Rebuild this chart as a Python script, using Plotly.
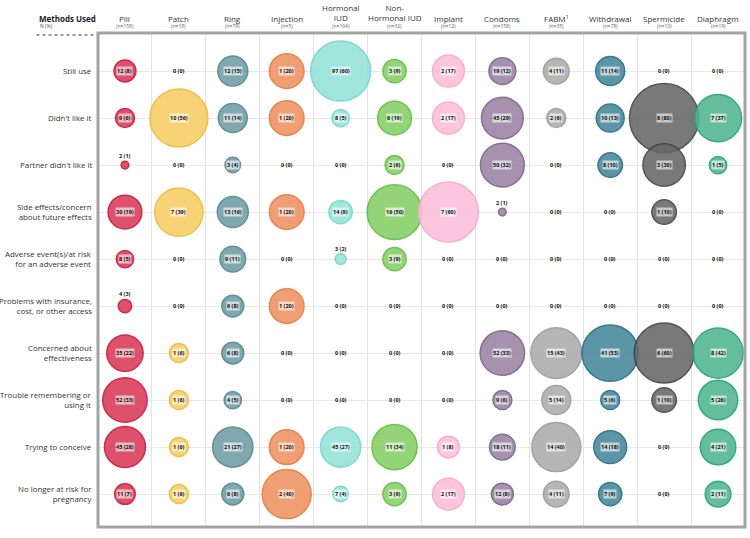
import plotly.graph_objects as go
import numpy as np

methods = ["Pill", "Patch", "Ring", "Injection", "Hormonal<br>IUD", "Non-<br>Hormonal IUD",
           "Implant", "Condoms", "FABM<sup>1</sup>", "Withdrawal", "Spermicide", "Diaphragm"]
method_n = [158, 18, 79, 5, 164, 32, 12, 158, 35, 78, 10, 19]

reasons = ["Still use", "Didn't like it", "Partner didn't like it",
           "Side effects/concern<br>about future effects",
           "Adverse event(s)/at risk<br>for an adverse event",
           "Problems with insurance,<br>cost, or other access",
           "Concerned about<br>effectiveness",
           "Trouble remembering or<br>using it",
           "Trying to conceive",
           "No longer at risk for<br>pregnancy"]

# counts[row][method], pct[row][method]
counts = [
    [12, 0, 12, 1, 97, 3, 2, 19, 4, 11, 0, 0],
    [9, 10, 11, 1, 8, 6, 2, 45, 2, 10, 8, 7],
    [2, 0, 3, 0, 0, 2, 0, 50, 0, 8, 3, 1],
    [30, 7, 13, 1, 14, 16, 7, 2, 0, 0, 1, 0],
    [8, 0, 9, 0, 3, 3, 0, 0, 0, 0, 0, 0],
    [4, 0, 6, 1, 0, 0, 0, 0, 0, 0, 0, 0],
    [35, 1, 6, 0, 0, 0, 0, 52, 15, 41, 6, 8],
    [52, 1, 4, 0, 0, 0, 0, 9, 5, 5, 1, 5],
    [45, 1, 21, 1, 45, 11, 1, 18, 14, 14, 0, 4],
    [11, 1, 6, 2, 7, 3, 2, 12, 4, 7, 0, 2],
]
pct = [
    [8, 0, 15, 20, 60, 9, 17, 12, 11, 14, 0, 0],
    [6, 56, 14, 20, 5, 19, 17, 29, 6, 13, 80, 37],
    [1, 0, 4, 0, 0, 6, 0, 32, 0, 10, 30, 5],
    [19, 39, 16, 20, 9, 50, 60, 1, 0, 0, 10, 0],
    [5, 0, 11, 0, 2, 9, 0, 0, 0, 0, 0, 0],
    [3, 0, 8, 20, 0, 0, 0, 0, 0, 0, 0, 0],
    [22, 6, 8, 0, 0, 0, 0, 33, 43, 53, 60, 42],
    [33, 6, 5, 0, 0, 0, 0, 6, 14, 6, 10, 26],
    [28, 6, 27, 20, 27, 34, 8, 11, 40, 18, 0, 21],
    [7, 6, 8, 40, 4, 9, 17, 8, 11, 9, 0, 11],
]

fill_colors = ["#d93a5a", "#f6cd62", "#6f9ea4", "#ee9160", "#94e3d9", "#86cf66",
               "#fcc0da", "#9a82a3", "#ababab", "#46889a", "#676767", "#4fb690"]
line_colors = ["#c8102e", "#f0b635", "#4c8389", "#e4763a", "#6fd5c8", "#5bbc39",
               "#f7a6ca", "#785e84", "#979797", "#1b6a7f", "#3f3f3f", "#1d9f74"]

FONT = "Open Sans"
SIZEREF = 2.0 / 60.0  # area scaling: diameter ~ 7.75*sqrt(pct)

fig = go.Figure()

for j, m in enumerate(methods):
    xs, ys, ss = [], [], []
    for i in range(len(reasons)):
        if pct[i][j] > 0:
            xs.append(j)
            ys.append(i)
            ss.append(pct[i][j])
    fig.add_trace(go.Scatter(
        x=xs, y=ys, mode="markers",
        marker=dict(size=ss, sizemode="area", sizeref=SIZEREF,
                    color=fill_colors[j], opacity=0.88,
                    line=dict(color=line_colors[j], width=1.5)),
        hoverinfo="skip", showlegend=False))

LBL = dict(family=FONT, size=5.5, color="#111", weight="bold")
annotations = []
for i in range(len(reasons)):
    for j in range(len(methods)):
        c, p = counts[i][j], pct[i][j]
        txt = f"{c} ({p})"
        if c == 0:
            annotations.append(dict(x=j, y=i, xref="x", yref="y", text=txt, showarrow=False,
                                    font=LBL))
        elif p <= 3:
            d = 7.75 * np.sqrt(p)
            annotations.append(dict(x=j, y=i, xref="x", yref="y", text=txt, showarrow=False,
                                    yshift=d / 2 + 5, font=LBL))
        else:
            annotations.append(dict(x=j, y=i, xref="x", yref="y", text=txt, showarrow=False,
                                    bgcolor="rgba(255,255,255,0.6)", borderpad=0, font=LBL))

# row labels
for i, r in enumerate(reasons):
    annotations.append(dict(x=0, xref="paper", y=i, yref="y", text=r, showarrow=False,
                            xanchor="right", align="right", xshift=-4,
                            font=dict(family=FONT, size=7.9, color="#333")))

# column headers
for j, m in enumerate(methods):
    two_line = "<br>" in m
    annotations.append(dict(x=j, xref="x", y=1, yref="paper", text=m, showarrow=False,
                            yanchor="middle", yshift=21 if two_line else 15,
                            font=dict(family=FONT, size=8, color="#333")))
    annotations.append(dict(x=j, xref="x", y=1, yref="paper", text=f"(n={method_n[j]})",
                            showarrow=False, yanchor="middle", yshift=7,
                            font=dict(family=FONT, size=5, color="#666")))

annotations.append(dict(x=-0.095, xref="paper", y=1, yref="paper", text="Methods Used",
                        showarrow=False, xanchor="left", yanchor="middle", yshift=15,
                        font=dict(family=FONT, size=8, color="#222", weight="bold")))
annotations.append(dict(x=-0.093, xref="paper", y=1, yref="paper", text="N (%)",
                        showarrow=False, xanchor="left", yanchor="middle", yshift=7,
                        font=dict(family=FONT, size=5, color="#555")))

shapes = [
    dict(type="line", xref="paper", yref="paper", x0=-0.095, x1=-0.002, y0=0.996, y1=0.996,
         line=dict(color="#999", width=2, dash="dot")),
    dict(type="rect", xref="paper", yref="paper", x0=0, x1=1, y0=0, y1=1,
         line=dict(color="#a3a3a3", width=3)),
]

fig.update_layout(
    width=750, height=538,
    margin=dict(l=98, r=5, t=33, b=11),
    plot_bgcolor="white", paper_bgcolor="white",
    xaxis=dict(range=[-0.5, 11.5], tickvals=[k + 0.5 for k in range(11)],
               showticklabels=False, showgrid=True, gridcolor="#e3e3e3", gridwidth=1,
               zeroline=False, fixedrange=True),
    yaxis=dict(range=[9.7, -0.81], tickvals=list(range(10)), showticklabels=False,
               showgrid=True, gridcolor="#e8e8e8", gridwidth=1, zeroline=False, fixedrange=True),
    annotations=annotations,
    shapes=shapes,
    font=dict(family=FONT),
)

fig.write_html("out.html", config={"displayModeBar": False},
               post_script="document.body.style.margin='0px';")
